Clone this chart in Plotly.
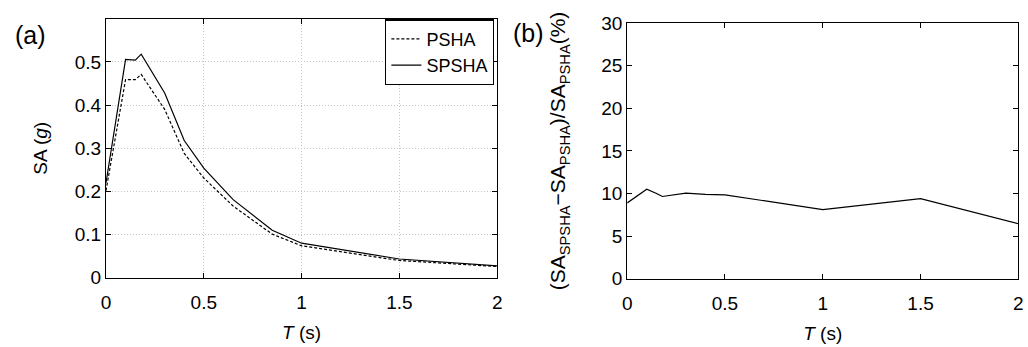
import plotly.graph_objects as go

# Periods (s)
periods = [0, 0.1, 0.15, 0.18, 0.3, 0.4, 0.5, 0.65, 0.85, 1.0, 1.5, 2.0]
sa_psha = [0.202, 0.459, 0.459, 0.471, 0.390, 0.288, 0.231, 0.166, 0.101, 0.074, 0.040, 0.026]
sa_spsha = [0.220, 0.506, 0.504, 0.518, 0.428, 0.318, 0.254, 0.181, 0.110, 0.080, 0.0435, 0.0276]
ratio_pct = [8.9, 10.5, 10.0, 9.65, 10.05, 9.9, 9.85, 9.35, 8.65, 8.1, 9.4, 6.45]

x_ticks = [0, 0.5, 1, 1.5, 2]
x_ticklabels = ["0", "0.5", "1", "1.5", "2"]
ya_ticks = [0, 0.1, 0.2, 0.3, 0.4, 0.5]
ya_ticklabels = ["0", "0.1", "0.2", "0.3", "0.4", "0.5"]
yb_ticks = [0, 5, 10, 15, 20, 25, 30]

FONT = "Liberation Sans, Arial, Helvetica, sans-serif"
FS = 19
W, H = 1028, 347

fig = go.Figure()
fig.add_trace(go.Scatter(x=periods, y=sa_psha, mode="lines", name="PSHA",
                         line=dict(color="black", width=1.2, dash="3px,2px"),
                         xaxis="x", yaxis="y"))
fig.add_trace(go.Scatter(x=periods, y=sa_spsha, mode="lines", name="SPSHA",
                         line=dict(color="black", width=1.2),
                         xaxis="x", yaxis="y"))
fig.add_trace(go.Scatter(x=periods, y=ratio_pct, mode="lines", showlegend=False,
                         line=dict(color="black", width=1.2),
                         xaxis="x2", yaxis="y2"))

common_axis = dict(showline=True, linecolor="black", linewidth=1.2, mirror="ticks",
                   ticks="inside", ticklen=5, tickcolor="black", zeroline=False,
                   ticklabeloverflow="allow",
                   tickfont=dict(size=FS, color="black", family=FONT))
grid = dict(showgrid=True, gridcolor="#c4c4c4", griddash="1px,2px", gridwidth=1)

fig.update_layout(
    width=W, height=H,
    margin=dict(l=0, r=0, t=0, b=0),
    paper_bgcolor="white", plot_bgcolor="white",
    font=dict(family=FONT, color="black", size=FS),
    xaxis=dict(domain=[102 / W, 497 / W], range=[0, 2], tickvals=x_ticks, ticktext=x_ticklabels,
               ticklabelstandoff=7,
               title=dict(text="<i>T</i> (s)", standoff=14, font=dict(size=FS)),
               anchor="y", **grid, **common_axis),
    yaxis=dict(domain=[1 - 285 / H, 1 - 9.3 / H], range=[0, 0.6], tickvals=ya_ticks,
               ticktext=ya_ticklabels,
               title=dict(text="SA (<i>g</i>)", standoff=22, font=dict(size=FS)),
               anchor="x", **grid, **common_axis),
    xaxis2=dict(domain=[628.3 / W, 1023.3 / W], range=[0, 2], tickvals=x_ticks,
                ticktext=x_ticklabels, showgrid=False, ticklabelstandoff=7,
                title=dict(text="<i>T</i> (s)", standoff=14, font=dict(size=FS)),
                anchor="y2", **common_axis),
    yaxis2=dict(domain=[1 - 286 / H, 1 - 14 / H], range=[0, 30], tickvals=yb_ticks,
                showgrid=False,
                title=dict(text="(SA<sub>SPSHA</sub>−SA<sub>PSHA</sub>)/SA<sub>PSHA</sub>(%)",
                           standoff=29, font=dict(size=21)),
                anchor="x2", **common_axis),
    legend=dict(x=494 / W, y=1 - 10 / H, xanchor="right", yanchor="top",
                bgcolor="white", bordercolor="black", borderwidth=1.2,
                font=dict(size=18, color="black", family=FONT),
                itemwidth=30, tracegroupgap=0),
    annotations=[
        dict(text="(a)", x=26 / W, y=1 - 27 / H, xref="paper", yref="paper",
             xanchor="center", yanchor="middle",
             showarrow=False, font=dict(size=25, color="black", family=FONT)),
        dict(text="(b)", x=529 / W, y=1 - 25 / H, xref="paper", yref="paper",
             xanchor="center", yanchor="middle",
             showarrow=False, font=dict(size=25, color="black", family=FONT)),
    ],
)

fig.write_html("out.html", config={"displayModeBar": False},
               post_script="document.body.style.margin='0';")
